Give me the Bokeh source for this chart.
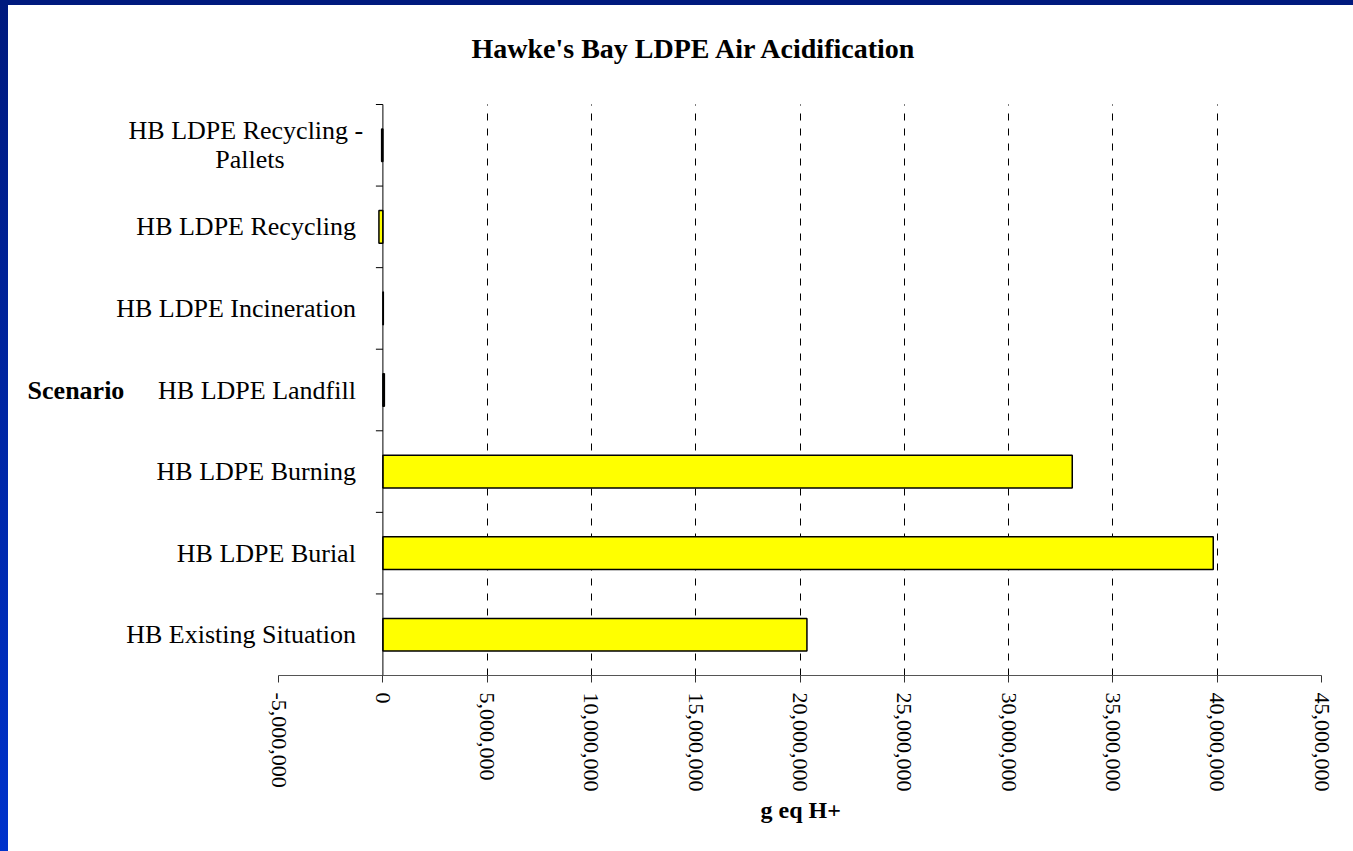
import math
from bokeh.plotting import figure
from bokeh.models import (Range1d, LabelSet, Label, ColumnDataSource,
                          FixedTicker, NumeralTickFormatter, Title, Div, Grid)
from bokeh.layouts import column, row
from bokeh.embed import file_html
from bokeh.resources import INLINE

# ---- data (bottom to top, as drawn) ----
categories = ["HB Existing Situation", "HB LDPE Burial", "HB LDPE Burning",
              "HB LDPE Landfill", "HB LDPE Incineration", "HB LDPE Recycling",
              "HB LDPE Recycling -\nPallets"]
values = [20330000, 39810000, 33050000, 70000, 20000, -190000, -60000]
x_ticks = [-5000000, 0, 5000000, 10000000, 15000000, 20000000, 25000000,
           30000000, 35000000, 40000000, 45000000]
title_text = "Hawke's Bay LDPE Air Acidification"
x_label = "g eq H+"
y_label = "Scenario"

FONT = "Liberation Serif"
n = len(categories)
ypos = [i + 0.5 for i in range(n)]
src = ColumnDataSource(dict(y=ypos, v=values))

# The frame is extended to the left and upward so that the category labels
# and the title (drawn as annotations) are not clipped.
X_START = -17.95e6
Y_END = n * 670 / 571

p = figure(width=1345, height=846, output_backend="svg", toolbar_location=None,
           x_range=Range1d(X_START, x_ticks[-1]), y_range=Range1d(0, Y_END),
           y_axis_location=None,
           min_border_left=0, min_border_right=32, min_border_top=0,
           min_border_bottom=176, margin=0)
p.outline_line_color = None
p.background_fill_color = "white"
p.border_fill_color = "white"
p.title.text = ""
p.ygrid.visible = False

# x axis
xa = p.xaxis[0]
xa.ticker = FixedTicker(ticks=x_ticks)
xa.bounds = (x_ticks[0], x_ticks[-1])
xa.formatter = NumeralTickFormatter(format="0,0")
xa.major_label_orientation = -math.pi / 2
xa.major_label_text_font = FONT
xa.major_label_text_font_size = "22px"
xa.major_label_text_color = "black"
xa.major_label_standoff = 10
xa.major_tick_out = 7
xa.major_tick_in = 0
xa.minor_tick_out = 0
xa.minor_tick_in = 0
xa.axis_line_color = "#555555"
xa.major_tick_line_color = "#333333"

p.add_layout(Title(text=x_label, align="left", offset=752,
                   text_font=FONT, text_font_size="24px",
                   text_font_style="bold", text_color="black",
                   standoff=0), "below")

# dashed vertical gridlines over the category area only
p.xgrid.ticker = FixedTicker(ticks=x_ticks[2:-1])
p.xgrid.cross_bounds = (0, n)
p.xgrid.grid_line_color = "black"
p.xgrid.grid_line_dash = "7 8"
p.xgrid.grid_line_width = 1
g2 = Grid(dimension=0, ticker=FixedTicker(ticks=x_ticks[-1:]),
          cross_bounds=(0, n),
          grid_line_color="#d8d8d8", grid_line_dash="7 8", grid_line_width=1)
p.add_layout(g2)

# bars
p.hbar(y="y", left=0, right="v", height=0.4, source=src,
       fill_color="#ffff00", line_color="black", line_width=1.5)

# category axis at x = 0
p.segment(x0=[0], y0=[0], x1=[0], y1=[n], line_color="black", line_width=1)
p.ray(x=[0] * (n + 1), y=list(range(n + 1)), length=7, length_units="screen",
      angle=math.pi, line_color="black", line_width=1)

# category labels: single-line ones right aligned, wrapped ones centred per line
sy, stext = [], []
my, mtext, myoff, mxoff = [], [], [], []
for y, c in zip(ypos, categories):
    lines = c.split("\n")
    if len(lines) == 1:
        sy.append(y)
        stext.append(c)
    else:
        k = len(lines)
        for j, line in enumerate(lines):
            my.append(y)
            mtext.append(line)
            myoff.append(14.5 * (k - 1) - 29 * j)
            mxoff.append(-137 if j == 0 else -133)

single = ColumnDataSource(dict(x=[0] * len(sy), y=sy, cat=stext))
multi = ColumnDataSource(dict(x=[0] * len(my), y=my, cat=mtext,
                              yo=myoff, xo=mxoff))

p.add_layout(LabelSet(x="x", y="y", text="cat", source=single, x_offset=-27,
                      text_align="right", text_baseline="middle",
                      text_font=FONT, text_font_size="26px",
                      text_color="black"))
p.add_layout(LabelSet(x="x", y="y", text="cat", source=multi, x_offset="xo",
                      y_offset="yo",
                      text_align="center", text_baseline="middle",
                      text_font=FONT, text_font_size="26px",
                      text_color="black"))

p.add_layout(Label(x=x_ticks[0], y=n / 2, x_offset=-251, text=y_label,
                   text_align="left", text_baseline="middle",
                   text_font=FONT, text_font_size="26px",
                   text_font_style="bold", text_color="black"))

# chart title
p.add_layout(Label(x=X_START, y=Y_END, x_offset=463, y_offset=-43,
                   text=title_text, text_align="left",
                   text_baseline="alphabetic",
                   text_font=FONT, text_font_size="28px",
                   text_font_style="bold", text_color="black"))

# blue slide frame (top strip and left strip)
top_bar = Div(text="", width=1353, height=5, margin=0,
              styles={"background": "#001a7e"})
left_bar = Div(text="", width=8, height=846, margin=0,
               styles={"background": "linear-gradient(to bottom, #001a7e, #0033cc)"})
layout = column(top_bar, row(left_bar, p, spacing=0), spacing=0)

open("out.html", "w").write(file_html(layout, INLINE))
